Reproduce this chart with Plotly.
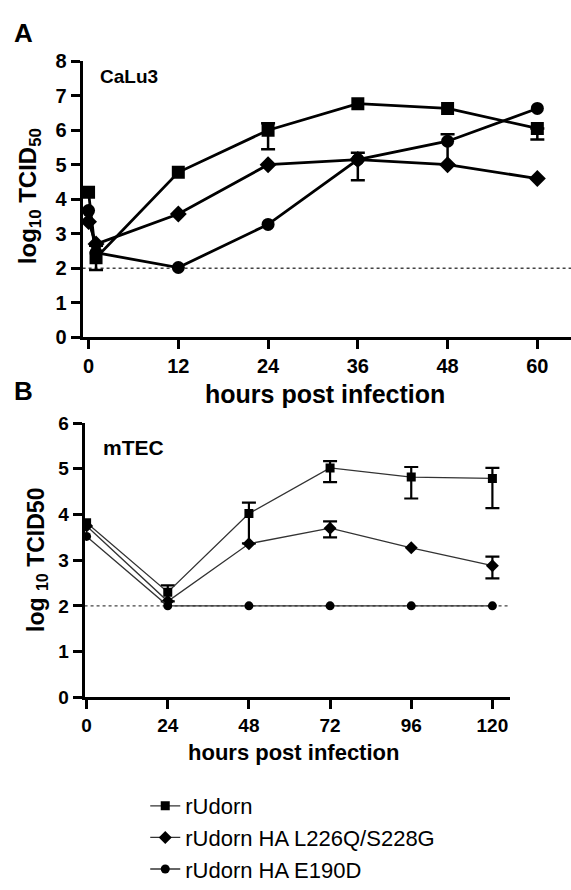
import plotly.graph_objects as go

# ---------------- data ----------------
hours_A = [0, 1, 12, 24, 36, 48, 60]
udorn_A = [4.2, 2.3, 4.78, 6.0, 6.77, 6.63, 6.05]
udorn_A_up = [0, 0.35, 0, 0.2, 0, 0, 0]
udorn_A_dn = [0, 0.35, 0, 0.55, 0, 0, 0.32]
l226_A = [3.35, 2.7, 3.57, 5.0, 5.15, 5.0, 4.6]
e190_A = [3.67, 2.45, 2.02, 3.27, 5.15, 5.68, 6.63]
e190_A_up = [0, 0, 0, 0, 0.2, 0.2, 0]
e190_A_dn = [0, 0, 0, 0, 0.6, 0.68, 0]

hours_B = [0, 24, 48, 72, 96, 120]
udorn_B = [3.82, 2.3, 4.02, 5.02, 4.82, 4.79]
udorn_B_up = [0, 0.15, 0.24, 0.15, 0.22, 0.23]
udorn_B_dn = [0, 0.2, 0.65, 0.31, 0.47, 0.65]
l226_B = [3.75, 2.1, 3.36, 3.7, 3.27, 2.88]
l226_B_up = [0, 0, 0, 0.15, 0, 0.2]
l226_B_dn = [0, 0, 0, 0.2, 0, 0.28]
e190_B = [3.52, 2.0, 2.0, 2.0, 2.0, 2.0]

names = ["rUdorn", "rUdorn HA L226Q/S228G", "rUdorn HA E190D"]
symbols = ["square", "diamond", "circle"]
detection_limit = 2

ticks_A_x = [0, 12, 24, 36, 48, 60]
ticks_A_y = [0, 1, 2, 3, 4, 5, 6, 7, 8]
ticks_B_x = [0, 24, 48, 72, 96, 120]
ticks_B_y = [0, 1, 2, 3, 4, 5, 6]

FONT = "Liberation Sans, Arial, sans-serif"
W, H = 571, 890

fig = go.Figure()


def err_trace(x, y, up, dn, xa, ya, width, thick):
    pts = [(xi, yi, u, d) for xi, yi, u, d in zip(x, y, up, dn) if (u or d)]
    if not pts:
        return
    fig.add_trace(go.Scatter(
        x=[p[0] for p in pts], y=[p[1] for p in pts], mode="markers",
        marker=dict(size=1, opacity=0), showlegend=False, hoverinfo="skip",
        xaxis=xa, yaxis=ya,
        error_y=dict(type="data", symmetric=False,
                     array=[p[2] for p in pts], arrayminus=[p[3] for p in pts],
                     color="black", thickness=thick, width=width)))


# Panel A
seriesA = [(udorn_A, udorn_A_up, udorn_A_dn), (l226_A, None, None), (e190_A, e190_A_up, e190_A_dn)]
for (ys, up, dn), nm, sym in zip(seriesA, names, symbols):
    if up is not None:
        err_trace(hours_A, ys, up, dn, "x", "y", 7, 2.5)
    fig.add_trace(go.Scatter(
        x=hours_A, y=ys, mode="lines+markers", name=nm, showlegend=False,
        line=dict(color="black", width=2.8),
        marker=dict(symbol=sym, size=13, color="black"),
        xaxis="x", yaxis="y"))

# Panel B
seriesB = [(udorn_B, udorn_B_up, udorn_B_dn), (l226_B, l226_B_up, l226_B_dn), (e190_B, None, None)]
for (ys, up, dn), nm, sym in zip(seriesB, names, symbols):
    if up is not None:
        err_trace(hours_B, ys, up, dn, "x2", "y2", 7, 2.2)
    fig.add_trace(go.Scatter(
        x=hours_B, y=ys, mode="lines+markers", name=nm, showlegend=True,
        line=dict(color="#333333", width=1.3),
        marker=dict(symbol=sym, size=9 if sym != "diamond" else 10, color="black"),
        xaxis="x2", yaxis="y2"))

# detection limit lines
fig.add_shape(type="line", xref="x domain", yref="y", x0=0, x1=1,
              y0=detection_limit, y1=detection_limit,
              line=dict(color="#444", width=1.4, dash="dot"), layer="below")
fig.add_shape(type="line", xref="x2 domain", yref="y2", x0=0, x1=1,
              y0=detection_limit, y1=detection_limit,
              line=dict(color="#444", width=1.4, dash="dot"), layer="below")

axis_common = dict(showline=True, linecolor="black", linewidth=3, ticks="outside",
                   ticklen=9, tickwidth=3, tickcolor="black", showgrid=False,
                   zeroline=False, mirror=False)

fig.update_layout(
    width=W, height=H, margin=dict(l=0, r=0, t=0, b=0),
    paper_bgcolor="white", plot_bgcolor="white",
    font=dict(family=FONT, color="black"),
    xaxis=dict(domain=[80 / W, 1.0], range=[-0.8, 64.5], anchor="y",
               tickvals=ticks_A_x, ticktext=[f"<b>{t}</b>" for t in ticks_A_x],
               tickfont=dict(size=20), **axis_common),
    yaxis=dict(domain=[1 - 338 / H, 1 - 52 / H], range=[0, 8], anchor="x",
               tickvals=ticks_A_y, ticktext=[f"<b>{t}</b>" for t in ticks_A_y],
               tickfont=dict(size=20), **axis_common),
    xaxis2=dict(domain=[82 / W, 510 / W], range=[-0.6, 125.3], anchor="y2",
                tickvals=ticks_B_x, ticktext=[f"<b>{t}</b>" for t in ticks_B_x],
                tickfont=dict(size=19), **axis_common),
    yaxis2=dict(domain=[1 - 711 / H, 1 - 427 / H], range=[0, 6], anchor="x2",
                tickvals=ticks_B_y, ticktext=[f"<b>{t}</b>" for t in ticks_B_y],
                tickfont=dict(size=19), **axis_common),
    legend=dict(x=143 / W, y=1 - 802 / H, xanchor="left", yanchor="top",
                font=dict(size=22, family=FONT), bgcolor="rgba(0,0,0,0)"),
)


def ann(text, xpx, ypx, size, angle=0, xanchor="center"):
    fig.add_annotation(text=text, x=xpx / W, y=1 - ypx / H, xref="paper", yref="paper",
                       showarrow=False, font=dict(size=size, family=FONT, color="black"),
                       textangle=angle, xanchor=xanchor, yanchor="middle")


ann("<b>A</b>", 21, 23, 26)
ann("<b>CaLu3</b>", 127, 68, 19)
ann("<b>log<sub>10</sub> TCID<sub>50</sub></b>", 26, 192, 24, angle=-90)
ann("<b>hours post infection</b>", 324, 397, 25)
ann("<b>B</b>", 21, 394, 26)
ann("<b>mTEC</b>", 131, 452, 21)
ann("<b>log <sub>10</sub> TCID50</b>", 34, 569, 23, angle=-90)
ann("<b>hours post infection</b>", 292, 768, 22)

fig.write_html("out.html")
